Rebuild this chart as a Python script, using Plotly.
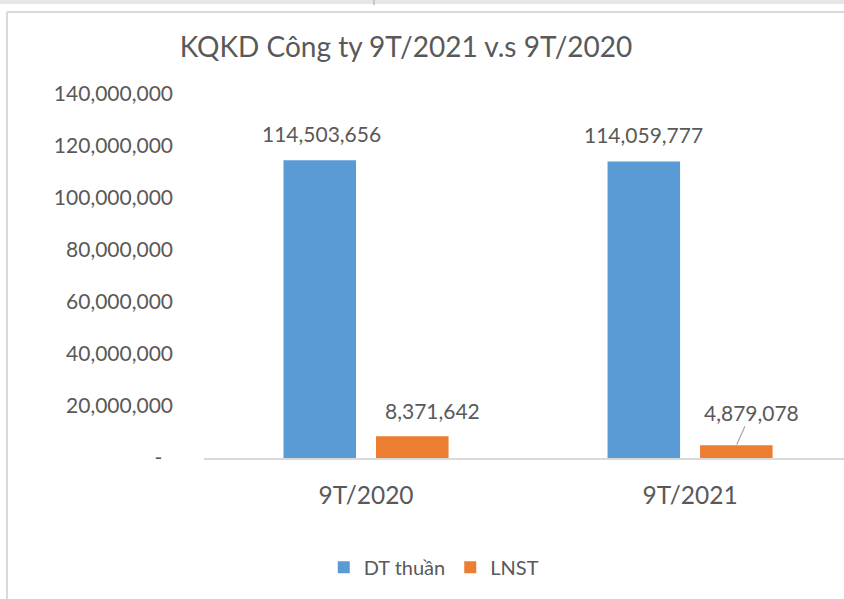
import plotly.graph_objects as go

categories = ["9T/2020", "9T/2021"]
dt_thuan = [114503656, 114059777]
lnst = [8371642, 4879078]
series_names = ["DT thuần", "LNST"]
y_tick_vals = [0, 20000000, 40000000, 60000000, 80000000, 100000000, 120000000, 140000000]
y_tick_text = ["-  "] + [f"{v:,}" for v in y_tick_vals[1:]]
title_text = "KQKD Công ty 9T/2021 v.s 9T/2020"

BLUE = "#5B9BD5"
ORANGE = "#ED7D31"
TXT = "#595959"
FONT = "Lato"

W, H = 844, 599
L, R, T, B = 204, 0, 94, 141
pw, ph = W - L - R, H - T - B


def px_to_paper_x(px):
    return (px - L) / pw


def px_to_paper_y(py):
    return (H - B - py) / ph


fig = go.Figure()
fig.add_trace(go.Bar(x=categories, y=dt_thuan, name=series_names[0],
                     marker=dict(color=BLUE, line=dict(width=0))))
fig.add_trace(go.Bar(x=categories, y=lnst, name=series_names[1],
                     marker=dict(color=ORANGE, line=dict(width=0))))

# data labels
bar_offset = 0.1427  # fraction of category width from group center to bar center
label_specs = [
    (0, dt_thuan[0], -bar_offset, 2, 27, False),
    (1, dt_thuan[1], -bar_offset, 0, 27, False),
    (0, lnst[0], bar_offset, 20, 26, False),
    (1, lnst[1], bar_offset, 15, 33, True),
]
for ci, v, dx, xs, ys, arrow in label_specs:
    if arrow:
        fig.add_annotation(x=ci + dx, y=v, xref="x", yref="y", text=f"{v:,}",
                           showarrow=True, arrowhead=0, arrowwidth=1.2,
                           arrowcolor="#a6a6a6", ax=xs, ay=-ys, standoff=1,
                           font=dict(family=FONT, size=21, color=TXT))
    else:
        fig.add_annotation(x=ci + dx, y=v, xref="x", yref="y", text=f"{v:,}",
                           showarrow=False, xshift=xs, yshift=ys,
                           font=dict(family=FONT, size=21, color=TXT))

# chart frame (left + top edges) and spreadsheet strip
fig.add_shape(type="line", xref="paper", yref="paper",
              x0=px_to_paper_x(7), x1=px_to_paper_x(7),
              y0=px_to_paper_y(605), y1=px_to_paper_y(12),
              line=dict(color="#d9d9d9", width=2), layer="below")
fig.add_shape(type="line", xref="paper", yref="paper",
              x0=px_to_paper_x(7), x1=px_to_paper_x(850),
              y0=px_to_paper_y(12), y1=px_to_paper_y(12),
              line=dict(color="#d9d9d9", width=2), layer="below")
fig.add_shape(type="rect", xref="paper", yref="paper",
              x0=px_to_paper_x(-5), x1=px_to_paper_x(850),
              y0=px_to_paper_y(4), y1=px_to_paper_y(-2),
              line=dict(width=0), fillcolor="#e6e6e6", layer="below")
fig.add_shape(type="line", xref="paper", yref="paper",
              x0=px_to_paper_x(374), x1=px_to_paper_x(374),
              y0=px_to_paper_y(5), y1=px_to_paper_y(-2),
              line=dict(color="#c8c8c8", width=2), layer="below")

fig.update_layout(
    width=W, height=H,
    margin=dict(l=L, r=R, t=T, b=B, autoexpand=False),
    paper_bgcolor="white", plot_bgcolor="white",
    barmode="group", bargap=0.429, bargroupgap=0.216,
    title=dict(text=title_text, x=406 / W, xanchor="center", y=1 - 47 / H, yanchor="middle",
               font=dict(family=FONT, size=28, color=TXT)),
    font=dict(family=FONT, color=TXT),
    legend=dict(orientation="h", x=0.359, xanchor="center", y=-0.30, yanchor="middle",
                font=dict(family=FONT, size=20, color=TXT), itemwidth=30,
                traceorder="normal"),
    showlegend=True,
)
fig.update_xaxes(range=[-0.5, 1.475], showline=True, linecolor="#d9d9d9", linewidth=2,
                 showgrid=False, ticks="", tickfont=dict(family=FONT, size=24.5, color=TXT),
                 ticklabelstandoff=15, zeroline=False)
fig.update_yaxes(range=[0, 140000000], showgrid=False, showline=False, zeroline=False,
                 tickvals=y_tick_vals, ticktext=y_tick_text, ticks="",
                 tickfont=dict(family=FONT, size=21, color=TXT), ticklabelstandoff=30)

# cover any stray right-edge artefact inside the chart frame
fig.add_shape(type="rect", xref="paper", yref="paper",
              x0=px_to_paper_x(826), x1=px_to_paper_x(850),
              y0=px_to_paper_y(455), y1=px_to_paper_y(15),
              line=dict(width=0), fillcolor="white", layer="above")

fig.write_html("out.html", config={"displayModeBar": False},
               post_script="document.body.style.margin='0';"
                           "document.body.style.overflow='hidden';"
                           "document.documentElement.style.overflow='hidden';")
